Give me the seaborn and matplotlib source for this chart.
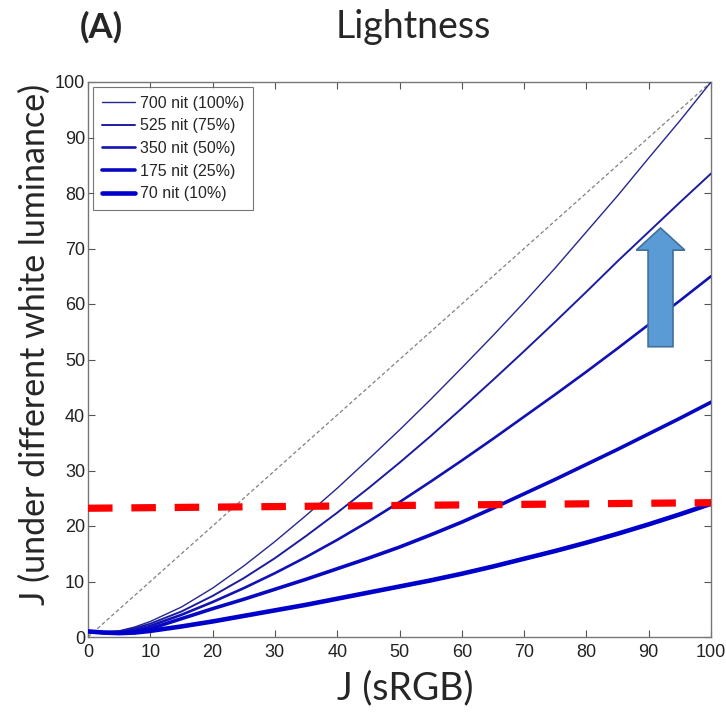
import numpy as np
import pandas as pd
import matplotlib
matplotlib.use("Agg")
import matplotlib.pyplot as plt
import seaborn as sns
from matplotlib.patches import Polygon

# ---- data ----
j_srgb = [0, 2.5, 5, 7.5, 10, 15, 20, 25, 30, 35, 40, 45, 50, 55, 60, 65, 70, 75, 80, 85, 90, 95, 100]
series_labels = ["700 nit (100%)", "525 nit (75%)", "350 nit (50%)", "175 nit (25%)", "70 nit (10%)"]
j_700 = [1, 0.9, 1.1, 1.8, 2.8, 5.4, 8.8, 12.8, 17.2, 21.9, 26.8, 32, 37.3, 42.8, 48.5, 54.3, 60.3, 66.5, 73, 79.5, 86.3, 93, 100]
j_525 = [1, 0.9, 1.0, 1.6, 2.4, 4.6, 7.4, 10.6, 14.2, 18.2, 22.4, 26.8, 31.4, 36.2, 41.2, 46.3, 51.5, 56.8, 62.2, 67.7, 73.0, 78.3, 83.5]
j_350 = [1, 0.8, 0.9, 1.3, 2.0, 4.0, 6.3, 8.8, 11.5, 14.4, 17.5, 20.8, 24.3, 28.0, 31.8, 35.7, 39.7, 43.7, 47.8, 52.0, 56.3, 60.6, 65]
j_175 = [1, 0.8, 0.7, 1.0, 1.5, 3.3, 5.1, 6.8, 8.6, 10.4, 12.3, 14.2, 16.2, 18.4, 20.7, 23.2, 25.8, 28.4, 31.1, 33.8, 36.6, 39.4, 42.3]
j_70 = [1, 0.8, 0.7, 0.8, 1.1, 1.9, 2.8, 3.8, 4.8, 5.8, 6.9, 8.0, 9.1, 10.2, 11.4, 12.7, 14.1, 15.5, 17.0, 18.6, 20.3, 22.1, 24]
series_values = [j_700, j_525, j_350, j_175, j_70]

diag_x = [0, 100]
diag_y = [0, 100]
red_x = [0, 100]
red_y = [23.2, 24.2]

# arrow annotation (data units)
arrow_x = 91.9
arrow_shaft_half = 2.0
arrow_head_half = 3.9
arrow_base = 52.3
arrow_head_start = 69.7
arrow_tip = 73.7

xticks = list(range(0, 101, 10))
yticks = list(range(0, 101, 10))

# ---- plot ----
sns.set_style("white")
plt.rcParams['font.family'] = ['Liberation Sans', 'DejaVu Sans']

fig = plt.figure(figsize=(7.26, 7.19), dpi=100)
ax = fig.add_axes([88/726, 1-637/719, (711-88)/726, (637-82)/719])

ax.plot(diag_x, diag_y, color='#808080', lw=0.9, ls=(0, (3, 2)), zorder=2)

colors = ['#262690', '#1c1ca0', '#1212b2', '#0808c2', '#0000cc']
widths = [1.0, 1.4, 1.9, 2.6, 3.3]
df = pd.DataFrame({
    'x': np.tile(j_srgb, len(series_labels)),
    'y': np.concatenate(series_values),
    'series': np.repeat(series_labels, len(j_srgb)),
})
for lab, c, w in zip(series_labels, colors, widths):
    sns.lineplot(data=df[df.series == lab], x='x', y='y', ax=ax, color=c, lw=w,
                 label=lab, zorder=3)

ax.plot(red_x, red_y, color='#ff0000', lw=5.2, ls=(0, (3.4, 2.6)), zorder=4)

shaft_l = arrow_x - arrow_shaft_half
shaft_r = arrow_x + arrow_shaft_half
verts = [(shaft_l, arrow_base), (shaft_r, arrow_base), (shaft_r, arrow_head_start),
         (arrow_x + arrow_head_half, arrow_head_start), (arrow_x, arrow_tip),
         (arrow_x - arrow_head_half, arrow_head_start), (shaft_l, arrow_head_start)]
ax.add_patch(Polygon(verts, closed=True, facecolor='#5b9bd5', edgecolor='#41719c', lw=1.2, zorder=5))

ax.set_xlim(0, 100)
ax.set_ylim(0, 100)
ax.set_xticks(xticks)
ax.set_yticks(yticks)
ax.tick_params(direction='in', length=5, width=0.8, color='#555555', labelsize=13,
               top=True, right=True, bottom=True, left=True, labelcolor='#222222')
ax.tick_params(axis='x', pad=5)
ax.tick_params(axis='y', pad=2)
for s in ax.spines.values():
    s.set_color('#777777')
    s.set_linewidth(1.0)
ax.set_xlabel('')
ax.set_ylabel('')

leg = ax.legend(loc='upper left', fontsize=11.5, frameon=True, fancybox=False,
                edgecolor='#555555', handlelength=2.1, borderaxespad=0.3,
                labelspacing=0.48, handletextpad=0.3, borderpad=0.55)
leg.get_frame().set_linewidth(0.8)

tfont = ['Lato', 'DejaVu Sans']
fig.text(80/726, 1-27/719, '(A)', fontsize=25, fontweight='bold', family=tfont, ha='left', va='center')
fig.text(413/726, 1-27/719, 'Lightness', fontsize=27, family=tfont, ha='center', va='center')
fig.text(405/726, 1-688/719, 'J (sRGB)', fontsize=27, family=tfont, ha='center', va='center')
fig.text(35/726, 1-344/719, 'J (under different white luminance)', fontsize=24.5, family=tfont,
         ha='center', va='center', rotation=90)

fig.savefig('out.png', dpi=100)
